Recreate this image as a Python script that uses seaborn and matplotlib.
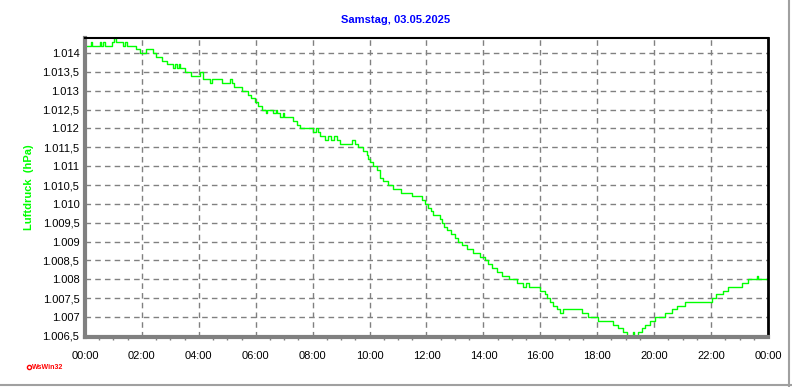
import matplotlib
matplotlib.use("Agg")
import matplotlib.pyplot as plt
from matplotlib.ticker import FixedLocator, FuncFormatter, MultipleLocator
import pandas as pd
import seaborn as sns

# Luftdruck, Samstag 03.05.2025 -- step points (hour of day, hPa)
hours = [0.00, 0.20, 0.23, 0.53, 0.58, 0.62, 0.70, 0.94, 1.02, 1.08,
         1.35, 1.40, 1.46, 1.81, 1.93, 2.16, 2.40, 2.51, 2.69, 2.87,
         3.10, 3.18, 3.22, 3.30, 3.35, 3.51, 3.74, 4.04, 4.15, 4.39,
         4.45, 4.62, 4.80, 5.10, 5.18, 5.25, 5.50, 5.73, 5.85, 5.96,
         6.09, 6.21, 6.35, 6.40, 6.62, 6.72, 6.76, 6.85, 6.95, 7.00,
         7.32, 7.44, 7.55, 8.02, 8.12, 8.18, 8.26, 8.45, 8.55, 8.65,
         8.75, 8.85, 8.96, 9.40, 9.48, 9.60, 9.78, 9.90, 9.95, 10.01,
         10.13, 10.25, 10.36, 10.48, 10.66, 10.83, 11.12, 11.48, 11.83, 11.95,
         12.07, 12.15, 12.24, 12.47, 12.56, 12.63, 12.71, 12.86, 13.00, 13.12,
         13.26, 13.41, 13.64, 13.88, 14.05, 14.17, 14.29, 14.46, 14.64, 14.90,
         15.17, 15.40, 15.50, 15.60, 15.99, 16.15, 16.22, 16.34, 16.46, 16.57,
         16.69, 16.81, 17.45, 17.68, 18.04, 18.56, 18.74, 18.92, 19.03, 19.25,
         19.30, 19.44, 19.56, 19.68, 19.85, 20.03, 20.38, 20.61, 20.79, 21.08,
         22.02, 22.19, 22.43, 22.60, 23.07, 23.31, 23.60, 23.65, 24.00]
pressure = [1014.2, 1014.3, 1014.2, 1014.3, 1014.2, 1014.3, 1014.2, 1014.3, 1014.4, 1014.3,
            1014.2, 1014.3, 1014.2, 1014.1, 1014.0, 1014.1, 1014.0, 1013.9, 1013.8, 1013.7,
            1013.6, 1013.7, 1013.6, 1013.7, 1013.6, 1013.5, 1013.4, 1013.5, 1013.3, 1013.2,
            1013.3, 1013.3, 1013.2, 1013.3, 1013.2, 1013.1, 1013.0, 1012.9, 1012.8, 1012.7,
            1012.6, 1012.5, 1012.4, 1012.5, 1012.4, 1012.5, 1012.4, 1012.3, 1012.4, 1012.3,
            1012.2, 1012.1, 1012.0, 1011.9, 1012.0, 1011.9, 1011.8, 1011.7, 1011.8, 1011.7,
            1011.8, 1011.7, 1011.6, 1011.7, 1011.6, 1011.5, 1011.4, 1011.3, 1011.2, 1011.1,
            1011.0, 1010.9, 1010.7, 1010.6, 1010.5, 1010.4, 1010.3, 1010.2, 1010.1, 1010.0,
            1009.9, 1009.8, 1009.7, 1009.6, 1009.5, 1009.4, 1009.3, 1009.2, 1009.1, 1009.0,
            1008.9, 1008.8, 1008.7, 1008.6, 1008.5, 1008.4, 1008.3, 1008.2, 1008.1, 1008.0,
            1007.9, 1007.8, 1007.9, 1007.8, 1007.7, 1007.6, 1007.5, 1007.4, 1007.3, 1007.2,
            1007.1, 1007.2, 1007.1, 1007.0, 1006.9, 1006.8, 1006.7, 1006.6, 1006.5, 1006.6,
            1006.5, 1006.6, 1006.7, 1006.8, 1006.9, 1007.0, 1007.1, 1007.2, 1007.3, 1007.4,
            1007.5, 1007.6, 1007.7, 1007.8, 1007.9, 1008.0, 1008.1, 1008.0, 1008.0]

y_ticks = [1006.5 + 0.5 * i for i in range(16)]
x_ticks = list(range(0, 25, 2))

df = pd.DataFrame({"stunde": hours, "luftdruck": pressure})

sns.set_style("white")
plt.rcParams["font.family"] = ["Liberation Sans", "DejaVu Sans"]

fig = plt.figure(figsize=(7.92, 3.87), dpi=100)
ax = fig.add_axes([0.1073, 0.1292, 0.8624, 0.7726])

sns.lineplot(data=df, x="stunde", y="luftdruck", ax=ax, color="#00ff00",
             linewidth=1.0, drawstyle="steps-post", estimator=None)

ax.set_xlim(0, 24)
ax.set_ylim(1006.47, 1014.4)


def de_fmt(v, pos):
    s = f"{int(v) // 1000}.{int(v) % 1000:03d}"
    if abs(v - int(v) - 0.5) < 1e-6:
        s += ",5"
    return s


ax.yaxis.set_major_locator(FixedLocator(y_ticks))
ax.yaxis.set_major_formatter(FuncFormatter(de_fmt))
ax.xaxis.set_major_locator(FixedLocator(x_ticks))
ax.xaxis.set_major_formatter(FuncFormatter(lambda v, p: f"{int(v) % 24:02d}:00"))
ax.xaxis.set_minor_locator(MultipleLocator(0.5))

ax.grid(True, which="major", color="#808080", linestyle=(0, (4, 3)), linewidth=1)
ax.set_axisbelow(True)

ax.tick_params(axis="both", which="major", labelsize=8, colors="#808080",
               labelcolor="black", length=4, width=1, direction="out")
ax.tick_params(axis="x", which="minor", length=2.5, width=1, colors="#808080",
               bottom=True)
ax.tick_params(axis="y", which="major", length=3, pad=1)
ax.tick_params(axis="x", which="major", pad=6)

for side in ["left", "bottom"]:
    ax.spines[side].set_color("#808080")
    ax.spines[side].set_linewidth(3)
ax.spines["top"].set_color("black")
ax.spines["top"].set_linewidth(1.5)
ax.spines["right"].set_color("black")
ax.spines["right"].set_linewidth(2)

ax.set_xlabel("")
ax.set_ylabel("Luftdruck  (hPa)", color="#00ff00", fontsize=8,
              fontweight="bold", labelpad=6)

fig.text(0.5, 0.948, "Samstag, 03.05.2025", ha="center", va="center",
         color="#0000ff", fontsize=8, fontweight="bold")
fig.text(0.041, 0.051, "WsWin32", ha="left", va="center", color="red",
         fontsize=5, fontweight="bold")
fig.add_artist(plt.Line2D([0.0365], [0.051], marker="o", markersize=3,
                          markeredgecolor="red", markerfacecolor="white",
                          markeredgewidth=1, linestyle="none",
                          transform=fig.transFigure))

# light frame at right and bottom edge
fig.add_artist(plt.Line2D([0.9965, 0.9965], [0.0, 1.0], color="#a0a0a0",
                          linewidth=1.5, transform=fig.transFigure))
fig.add_artist(plt.Line2D([0.0, 1.0], [0.004, 0.004], color="#a0a0a0",
                          linewidth=1.5, transform=fig.transFigure))

fig.savefig("out.png", dpi=100)
